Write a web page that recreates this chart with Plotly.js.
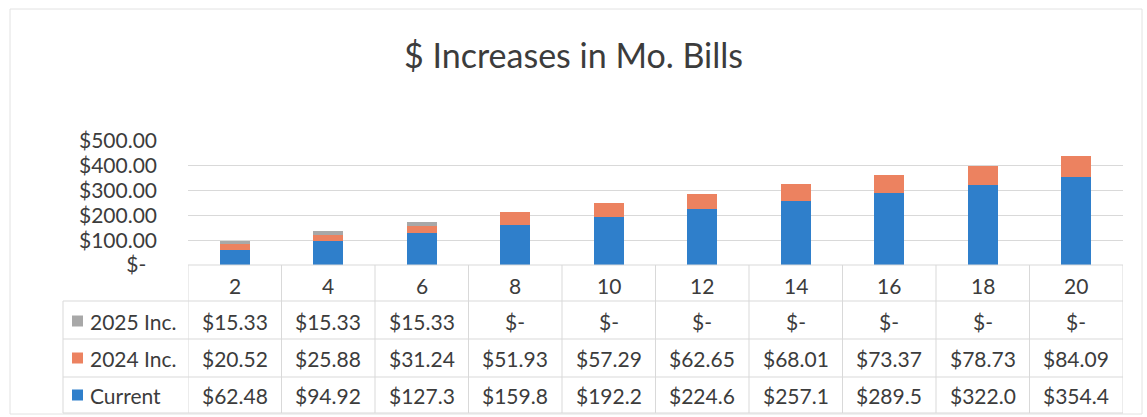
<!DOCTYPE html>
<html><head><meta charset="utf-8">
<script src="https://cdn.plot.ly/plotly-3.0.1.min.js"></script>
<style>html,body{margin:0;padding:0;background:#fff;}#chart{width:1147px;height:417px;}</style>
</head><body><div id="chart"></div>
<script>
// ---- data ----
const categories = ["2","4","6","8","10","12","14","16","18","20"];
const current   = [62.48, 94.92, 127.3, 159.8, 192.2, 224.6, 257.1, 289.5, 322.0, 354.4];
const inc2024   = [20.52, 25.88, 31.24, 51.93, 57.29, 62.65, 68.01, 73.37, 78.73, 84.09];
const inc2025   = [15.33, 15.33, 15.33, 0, 0, 0, 0, 0, 0, 0];
const seriesNames = ["2025 Inc.", "2024 Inc.", "Current"];
const yTickVals = [0, 100, 200, 300, 400, 500];
const yTickText = ["$-\u00A0\u00A0", "$100.00", "$200.00", "$300.00", "$400.00", "$500.00"];

// ---- style ----
const FONT = "Lato, 'Open Sans', sans-serif";
const TXT = "#3c3c3c";
const GRID = "#d9d9d9";
const colors = {"Current": "#2f7fcb", "2024 Inc.": "#ec8260", "2025 Inc.": "#a8a8a8"};

// geometry (pixels)
const W = 1147, H = 417;
const L = 188, R = 1123, T = 141, B = 265;
const pw = R - L, ph = B - T;
const px = p => (p - L) / pw;
const py = p => (B - p) / ph;

const fmt = v => v === 0 ? "$-" : ("$" + v.toFixed(2)).slice(0, 6);

const traces = [
  {name: "Current", y: current},
  {name: "2024 Inc.", y: inc2024},
  {name: "2025 Inc.", y: inc2025}
].map(s => ({type: "bar", x: categories, y: s.y, name: s.name,
  marker: {color: colors[s.name], line: {width: 0}}, hoverinfo: "skip"}));

const shapes = [];
const annotations = [];
const line = {color: GRID, width: 1};

// outer chart border
shapes.push({type: "rect", xref: "paper", yref: "paper",
  x0: px(10), x1: px(1142), y0: py(414), y1: py(9), line: {color: "#e2e2e2", width: 1}});

// table rows (pixel y boundaries)
const rowY = [265, 301, 339, 377, 413];
const rowC = [285, 321, 358, 395];
// header top line
shapes.push({type: "line", xref: "paper", yref: "paper", x0: 0, x1: 1, y0: py(rowY[0]), y1: py(rowY[0]), line});
for (let i = 1; i < rowY.length; i++) {
  shapes.push({type: "line", xref: "paper", yref: "paper", x0: px(63), x1: 1, y0: py(rowY[i]), y1: py(rowY[i]), line});
}
// vertical lines
for (let i = 0; i <= categories.length; i++) {
  shapes.push({type: "line", xref: "x", yref: "paper", x0: i - 0.5, x1: i - 0.5,
    y0: py(rowY[0]), y1: py(rowY[4]), line});
}
shapes.push({type: "line", xref: "paper", yref: "paper", x0: px(63), x1: px(63),
  y0: py(rowY[1]), y1: py(rowY[4]), line});

const cellFont = {family: FONT, size: 21, color: TXT};

// header row (category labels)
categories.forEach((c, i) => annotations.push({xref: "x", yref: "paper", x: i, y: py(rowC[0]),
  xanchor: "center", yanchor: "middle", text: c, showarrow: false, font: cellFont}));

// data rows
const rowsData = [inc2025, inc2024, current];
seriesNames.forEach((name, r) => {
  const yc = py(rowC[r + 1]);
  // legend key square
  shapes.push({type: "rect", xref: "paper", yref: "paper", x0: px(72), x1: px(83),
    y0: yc - 5.5 / ph, y1: yc + 5.5 / ph, fillcolor: colors[name], line: {width: 0}});
  annotations.push({xref: "paper", yref: "paper", x: px(88), y: yc, xanchor: "left", yanchor: "middle",
    text: name, showarrow: false, font: cellFont});
  rowsData[r].forEach((v, i) => annotations.push({xref: "x", yref: "paper", x: i, y: yc,
    xanchor: "center", yanchor: "middle", text: fmt(v), showarrow: false, font: cellFont}));
});

const layout = {
  width: W, height: H,
  margin: {l: L, r: W - R, t: T, b: H - B, pad: 0},
  paper_bgcolor: "#fff", plot_bgcolor: "#fff",
  title: {text: "$ Increases in Mo. Bills", x: 0.5, xanchor: "center", y: 1 - 56 / H, yanchor: "middle",
    font: {family: FONT, size: 34, color: TXT}},
  barmode: "stack", bargap: 0.68,
  showlegend: false,
  xaxis: {type: "category", showticklabels: false, showgrid: false, zeroline: false, showline: false, ticks: "",
    range: [-0.5, categories.length - 0.5], fixedrange: true},
  yaxis: {range: [0, 500], tickvals: yTickVals, ticktext: yTickText, showgrid: true, gridcolor: GRID, gridwidth: 1,
    zeroline: false, showline: false, ticks: "", ticklabelstandoff: 30,
    tickfont: {family: FONT, size: 21, color: TXT}, fixedrange: true},
  shapes, annotations,
  font: {family: FONT, color: TXT}
};

Plotly.newPlot("chart", traces, layout, {displayModeBar: false, staticPlot: true});
</script>
</body></html>
